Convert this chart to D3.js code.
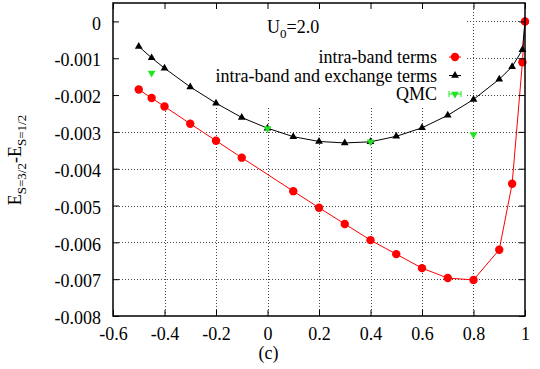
<!DOCTYPE html>
<html>
<head>
<meta charset="utf-8">
<script src="https://cdn.jsdelivr.net/npm/d3@7"></script>
<style>
  html, body { margin: 0; padding: 0; background: #fff; }
  svg, svg text { font-family: "Liberation Serif", "DejaVu Serif", serif !important; }
  svg { display: block; }
</style>
</head>
<body>
<svg id="chart" width="540" height="369"></svg>
<script>
// Energy difference E(S=3/2) - E(S=1/2) versus the parameter on the x axis, U0 = 2.0
const intraX = [-0.5, -0.45, -0.4, -0.3, -0.2, -0.1, 0.1, 0.2, 0.3, 0.4, 0.5, 0.6, 0.7, 0.8, 0.9, 0.95, 0.99, 1.0];
const intraY = [-0.00185, -0.00208, -0.00231, -0.00278, -0.00324, -0.0037, -0.00461, -0.00506, -0.0055, -0.00594,
                -0.00632, -0.0067, -0.00697, -0.00702, -0.0062, -0.00441, -0.00111, 0];

const exchX = [-0.5, -0.45, -0.4, -0.3, -0.2, -0.1, 0.0, 0.1, 0.2, 0.3, 0.4, 0.5, 0.6, 0.7, 0.8, 0.9, 0.95, 0.99, 1.0];
const exchY = [-0.00068, -0.00099, -0.00127, -0.00178, -0.00222, -0.00261, -0.0029, -0.00313, -0.00326, -0.0033,
               -0.00327, -0.00312, -0.00289, -0.00255, -0.00212, -0.00157, -0.00123, -0.00077, 0];

const qmcX = [-0.45, 0.0, 0.4, 0.8];
const qmcY = [-0.0014, -0.00291, -0.00327, -0.00307];
const qmcErr = [0.00002, 0.00002, 0.00002, 0.00002];

const xTicks = [-0.6, -0.4, -0.2, 0, 0.2, 0.4, 0.6, 0.8, 1];
const xTickLabels = ["-0.6", "-0.4", "-0.2", "0", "0.2", "0.4", "0.6", "0.8", "1"];
const yTicks = [0, -0.001, -0.002, -0.003, -0.004, -0.005, -0.006, -0.007, -0.008];
const yTickLabels = ["0", "-0.001", "-0.002", "-0.003", "-0.004", "-0.005", "-0.006", "-0.007", "-0.008"];

const legendLabels = ["intra-band terms", "intra-band and exchange terms", "QMC"];

const RED = "#ff0000", GREEN = "#1ee61e", BLACK = "#000000";
const FONT = "'Liberation Serif', 'DejaVu Serif', serif";

const svg = d3.select("#chart");
const m = { left: 113, right: 15, top: 3, bottom: 53 };
const W = 540, H = 369;
const x = d3.scaleLinear([-0.6, 1], [m.left, W - m.right]);
const y = d3.scaleLinear([-0.008, 0.0005], [H - m.bottom, m.top]);
const x0 = x.range()[0], x1 = x.range()[1], y0 = y.range()[0], y1 = y.range()[1];

// dotted grid
const grid = svg.append("g").attr("stroke", "#444").attr("stroke-width", 1).attr("stroke-dasharray", "1,2");
grid.selectAll("line.v").data(xTicks.slice(1, -1)).join("line")
  .attr("x1", d => Math.round(x(d)) + 0.5).attr("x2", d => Math.round(x(d)) + 0.5)
  .attr("y1", y1).attr("y2", y0);
grid.selectAll("line.h").data(yTicks.slice(0, -1)).join("line")
  .attr("y1", d => Math.round(y(d)) + 0.5).attr("y2", d => Math.round(y(d)) + 0.5)
  .attr("x1", x0).attr("x2", x1);

// opaque key area
svg.append("rect").attr("x", x0 + 1).attr("y", y1 + 1)
  .attr("width", 466 - x0).attr("height", 102).attr("fill", "#fff");

// curves
const line = d3.line().x(d => x(d[0])).y(d => y(d[1]));
const intra = intraX.map((v, i) => [v, intraY[i]]);
const exch = exchX.map((v, i) => [v, exchY[i]]);
const qmc = qmcX.map((v, i) => [v, qmcY[i], qmcErr[i]]);

svg.append("path").datum(intra).attr("d", line).attr("fill", "none").attr("stroke", RED).attr("stroke-width", 1);
svg.append("path").datum(exch).attr("d", line).attr("fill", "none").attr("stroke", BLACK).attr("stroke-width", 1);

const triUp = d3.symbol(d3.symbolTriangle, 26);
svg.append("g").selectAll("path").data(exch).join("path")
  .attr("transform", d => `translate(${x(d[0])},${y(d[1])})`)
  .attr("d", triUp()).attr("fill", BLACK);

svg.append("g").selectAll("circle").data(intra).join("circle")
  .attr("cx", d => x(d[0])).attr("cy", d => y(d[1])).attr("r", 4.2).attr("fill", RED);

// QMC points with error bars
const qg = svg.append("g");
qg.selectAll("line").data(qmc).join("line")
  .attr("x1", d => x(d[0])).attr("x2", d => x(d[0]))
  .attr("y1", d => y(d[1] - d[2])).attr("y2", d => y(d[1] + d[2]))
  .attr("stroke", GREEN).attr("stroke-width", 1);
qg.selectAll("path").data(qmc).join("path")
  .attr("transform", d => `translate(${x(d[0])},${y(d[1])}) rotate(180)`)
  .attr("d", triUp()).attr("fill", GREEN);

// frame and mirrored inward ticks
const axes = svg.append("g");
const axisB = d3.axisBottom(x).tickValues(xTicks).tickFormat((d, i) => xTickLabels[i])
  .tickSizeInner(-6).tickSizeOuter(0).tickPadding(11);
const axisT = d3.axisTop(x).tickValues(xTicks).tickFormat("").tickSizeInner(-6).tickSizeOuter(0);
const axisL = d3.axisLeft(y).tickValues(yTicks).tickFormat((d, i) => yTickLabels[i])
  .tickSizeInner(-6).tickSizeOuter(0).tickPadding(12);
const axisR = d3.axisRight(y).tickValues(yTicks).tickFormat("").tickSizeInner(-6).tickSizeOuter(0);

function styleAxis(g) {
  g.select(".domain").remove();
  g.attr("font-family", null).attr("font-size", 18);
  g.selectAll("text").attr("font-size", 18).style("font-family", FONT).style("font-size", "18px").attr("fill", "#000");
  g.selectAll(".tick line").attr("stroke", "#000");
}
axes.append("g").attr("transform", `translate(0,${y0})`).call(axisB).call(styleAxis);
axes.append("g").attr("transform", `translate(0,${y1})`).call(axisT).call(styleAxis);
axes.append("g").attr("transform", `translate(${x0},0)`).call(axisL).call(styleAxis)
  .selectAll("text").attr("dy", "0.43em");
axes.append("g").attr("transform", `translate(${x1},0)`).call(axisR).call(styleAxis);

svg.append("rect").attr("x", x0).attr("y", y1).attr("width", x1 - x0).attr("height", y0 - y1)
  .attr("fill", "none").attr("stroke", "#000").attr("stroke-width", 1.5);

// key
const keyRight = 437, keyRows = [63, 81.5, 100], sampleX = 455;
const key = svg.append("g").style("font-family", FONT).style("font-size", "18px").attr("text-anchor", "end");
legendLabels.forEach((t, i) => {
  key.append("text").attr("x", keyRight).attr("y", keyRows[i]).text(t);
});
const sy = keyRows.map(v => v - 6);
key.append("line").attr("x1", sampleX - 6).attr("x2", sampleX + 6).attr("y1", sy[0]).attr("y2", sy[0]).attr("stroke", RED);
key.append("circle").attr("cx", sampleX).attr("cy", sy[0]).attr("r", 4.2).attr("fill", RED);
key.append("line").attr("x1", sampleX - 6).attr("x2", sampleX + 6).attr("y1", sy[1]).attr("y2", sy[1]).attr("stroke", BLACK);
key.append("path").attr("transform", `translate(${sampleX},${sy[1]})`).attr("d", triUp()).attr("fill", BLACK);
key.append("line").attr("x1", sampleX - 6).attr("x2", sampleX + 6).attr("y1", sy[2]).attr("y2", sy[2]).attr("stroke", GREEN);
[sampleX - 6, sampleX + 6].forEach(cx => key.append("line").attr("x1", cx).attr("x2", cx)
  .attr("y1", sy[2] - 3).attr("y2", sy[2] + 3).attr("stroke", GREEN));
key.append("path").attr("transform", `translate(${sampleX},${sy[2]}) rotate(180)`).attr("d", triUp()).attr("fill", GREEN);

// parameter label
const u = svg.append("text").attr("x", 267).attr("y", 33).style("font-family", FONT).style("font-size", "18px");
u.append("tspan").text("U");
u.append("tspan").attr("dy", 5).style("font-size", "13px").text("0");
u.append("tspan").attr("dy", -5).text("=2.0");

// y-axis title
const yl = svg.append("text").attr("transform", "translate(21,160) rotate(-90)")
  .attr("text-anchor", "middle").style("font-family", FONT).style("font-size", "18px");
yl.append("tspan").text("E");
yl.append("tspan").attr("dy", 5).style("font-size", "13px").text("S=3/2");
yl.append("tspan").attr("dy", -5).text("-E");
yl.append("tspan").attr("dy", 5).style("font-size", "13px").text("S=1/2");

// panel tag
svg.append("text").attr("x", x(0) + 1).attr("y", 359).attr("text-anchor", "middle")
  .style("font-family", FONT).style("font-size", "18px").text("(c)");
</script>
</body>
</html>
